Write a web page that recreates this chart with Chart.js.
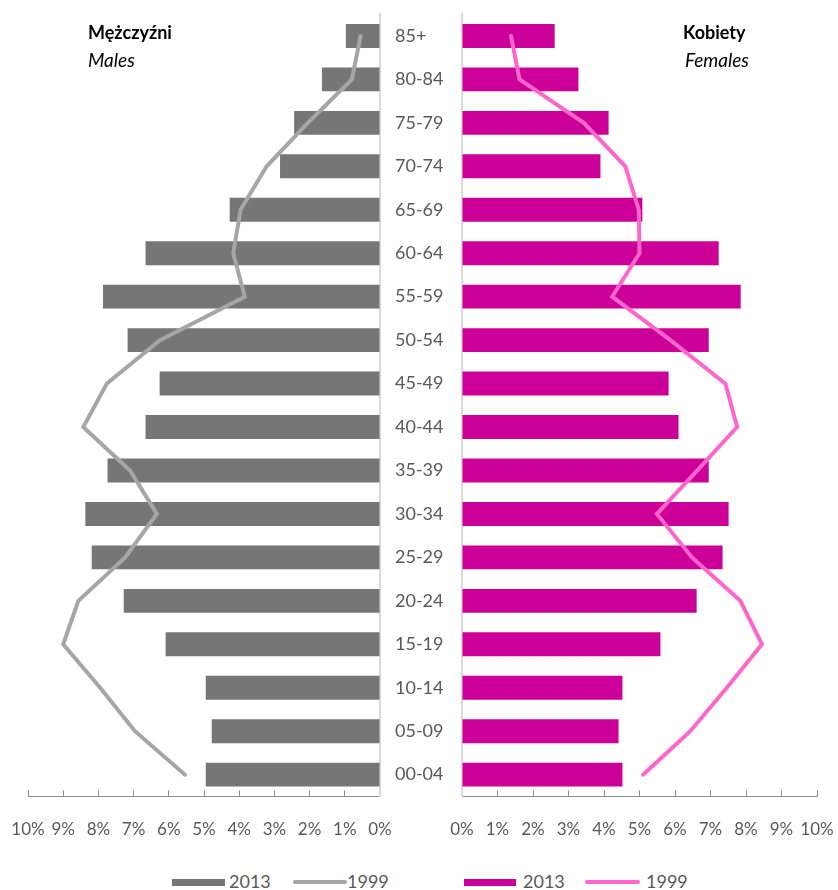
<!DOCTYPE html>
<html>
<head>
<meta charset="utf-8">
<script src="https://cdn.jsdelivr.net/npm/chart.js@4.4.0/dist/chart.umd.min.js"></script>
<style>
    body { margin: 0; background: #fff; width: 838px; height: 890px; position: relative; overflow: hidden; font-family: Lato, sans-serif; }
    canvas { position: absolute; top: 0; }
    .title { position: absolute; color: #000; line-height: 1.2; }
    .title.b { font-weight: bold; font-size: 18px; }
    .title.i { font-style: italic; font-size: 19px; }
    .legend { position: absolute; top: 870px; font-size: 18px; line-height: 22px; color: #595959; }
    .legend span { position: absolute; white-space: nowrap; }
    .sw { height: 7px; top: 9px; }
    .ln { height: 4px; top: 10px; border-radius: 2px; }
</style>
</head>
<body>
<canvas id="males" width="400" height="860" style="left:0"></canvas>
<canvas id="females" width="458" height="860" style="left:380px"></canvas>

<div class="title b" style="left:88px; top:22px">Mężczyźni</div>
<div class="title i" style="left:88px; top:49px">Males</div>
<div class="title b" style="left:683px; top:22px">Kobiety</div>
<div class="title i" style="left:685px; top:49px">Females</div>

<div class="legend" style="left:0">
    <span class="sw" style="left:172px; width:53px; background:#767676"></span>
    <span style="left:229px">2013</span>
    <span class="ln" style="left:293px; width:54px; background:#a6a6a6"></span>
    <span style="left:347px">1999</span>
</div>
<div class="legend" style="left:0">
    <span class="sw" style="left:464px; width:52px; background:#cc0099"></span>
    <span style="left:523px">2013</span>
    <span class="ln" style="left:585px; width:55px; background:#ff66cc"></span>
    <span style="left:646px">1999</span>
</div>

<script>
// Age groups, youngest first (drawn bottom to top)
const ageGroups = ['00-04', '05-09', '10-14', '15-19', '20-24', '25-29', '30-34', '35-39', '40-44',
                   '45-49', '50-54', '55-59', '60-64', '65-69', '70-74', '75-79', '80-84', '85+'];

// Share of population in %
const males2013   = [4.95, 4.78, 4.95, 6.09, 7.28, 8.19, 8.37, 7.74, 6.66, 6.26, 7.17, 7.87, 6.66, 4.27, 2.84, 2.44, 1.65, 0.97];
const males1999   = [5.54, 6.96, 7.95, 9.00, 8.57, 7.24, 6.34, 7.10, 8.43, 7.76, 6.25, 3.84, 4.17, 3.96, 3.22, 2.05, 0.80, 0.55];
const females2013 = [4.52, 4.41, 4.52, 5.59, 6.61, 7.34, 7.51, 6.95, 6.10, 5.82, 6.95, 7.85, 7.23, 5.08, 3.90, 4.13, 3.28, 2.61];
const females1999 = [5.10, 6.43, 7.46, 8.45, 7.84, 6.48, 5.49, 6.63, 7.75, 7.42, 5.87, 4.23, 5.00, 4.98, 4.60, 3.43, 1.62, 1.38];

const xTickLabels = ['0%', '1%', '2%', '3%', '4%', '5%', '6%', '7%', '8%', '9%', '10%'];

const tickColor = '#595959';

function makeDatasets(bars, line, barColor, lineColor) {
    return [{
        type: 'line',
        label: '1999',
        data: line,
        indexAxis: 'y',
        borderColor: lineColor,
        backgroundColor: lineColor,
        borderWidth: 4,
        borderCapStyle: 'round',
        pointRadius: 0,
        tension: 0,
        order: 0
    }, {
        type: 'bar',
        label: '2013',
        data: bars,
        backgroundColor: barColor,
        categoryPercentage: 1,
        barPercentage: 0.55,
        order: 1
    }];
}

function xScale(reverse) {
    return {
        type: 'linear',
        min: 0,
        max: 10,
        reverse: reverse,
        position: 'bottom',
        border: { color: '#8c8c8c', width: 1 },
        grid: { drawOnChartArea: false, tickLength: -6, color: '#8c8c8c' },
        ticks: {
            stepSize: 1,
            autoSkip: false,
            maxRotation: 0,
            minRotation: 0,
            padding: 0,
            color: tickColor,
            // tall line box pushes the labels down without widening the side padding
            font: { family: 'Lato', size: 17, lineHeight: '79px' },
            callback: v => xTickLabels[v]
        },
        afterFit: s => { s.height = 40; }
    };
}

const common = {
    responsive: false,
    animation: false,
    indexAxis: 'y',
    plugins: { legend: { display: false }, tooltip: { enabled: false } }
};

// Males (left, axis reversed)
new Chart(document.getElementById('males'), {
    type: 'bar',
    data: { labels: ageGroups, datasets: makeDatasets(males2013, males1999, '#767676', '#a6a6a6') },
    options: {
        ...common,
        layout: { padding: { left: 28, right: 20, top: 14.2, bottom: 23.6 } },
        scales: {
            x: xScale(true),
            y: {
                type: 'category',
                reverse: true,
                position: 'right',
                grid: { display: false },
                border: { color: '#d9d9d9', width: 2 },
                ticks: { display: false },
                afterFit: s => { s.width = 0; }
            }
        }
    }
});

// Females (right), age labels on its left axis
new Chart(document.getElementById('females'), {
    type: 'bar',
    data: { labels: ageGroups, datasets: makeDatasets(females2013, females1999, '#cc0099', '#ff66cc') },
    options: {
        ...common,
        layout: { padding: { left: 15, right: 21, top: 14.2, bottom: 23.6 } },
        scales: {
            x: xScale(false),
            y: {
                type: 'category',
                reverse: true,
                position: 'left',
                grid: { display: false },
                border: { color: '#d9d9d9', width: 2 },
                ticks: {
                    autoSkip: false,
                    crossAlign: 'far',
                    color: tickColor,
                    font: { family: 'Lato', size: 18 }
                },
                afterFit: s => { s.width = 67; }
            }
        }
    }
});
</script>
</body>
</html>
